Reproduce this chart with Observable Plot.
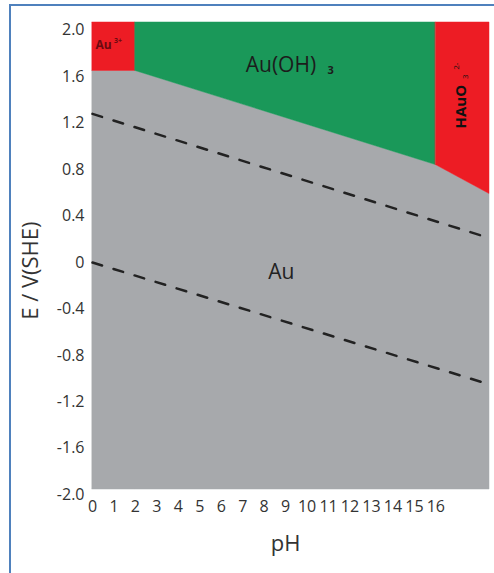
<!DOCTYPE html>
<html>
<head>
<meta charset="utf-8">
<script src="https://cdn.jsdelivr.net/npm/d3@7"></script>
<script src="https://cdn.jsdelivr.net/npm/@observablehq/plot@0.6"></script>
<style>
  html, body { margin: 0; padding: 0; background: #fff; }
  #wrap { position: relative; width: 494px; height: 573px; overflow: hidden; }
  #frameL { position: absolute; left: 9px; top: 4px; width: 2px; height: 569px; background: #4f81bd; }
  #frameT { position: absolute; left: 9px; top: 4px; width: 485px; height: 2px; background: #4f81bd; }
  #chart { position: absolute; left: 0; top: 0; }
</style>
</head>
<body>
<div id="wrap"><div id="chart"></div><div id="frameL"></div><div id="frameT"></div></div>
<script>
// Scale extent (E in V vs SHE, pH)
const pHDomain = [0, 18.5];
const EDomain = [-1.955, 2.067];
const pHTicks = [0,1,2,3,4,5,6,7,8,9,10,11,12,13,14,15,16];
const ETicks = [2.0, 1.6, 1.2, 0.8, 0.4, 0, -0.4, -0.8, -1.2, -1.6, -2.0];

// Region boundaries
const au3Boundary = [{pH: 0, E: 1.65}, {pH: 2, E: 1.65}];
const auOH3Boundary = [{pH: 2, E: 1.65}, {pH: 16, E: 0.84}];
const hAuO3Boundary = [{pH: 16, E: 0.84}, {pH: 18.5, E: 0.59}];
const auBoundary = [{pH: 0, E: 1.65}, {pH: 2, E: 1.65}, {pH: 16, E: 0.84}, {pH: 18.5, E: 0.59}];

// Water stability lines (dashed)
const o2Line = [{pH: 0, E: 1.28}, {pH: 18.5, E: 0.21}];
const h2Line = [{pH: 0, E: 0}, {pH: 18.5, E: -1.05}];

// Labels (pH, E positions)
const auOHLabel = [{pH: 7.14, E: 1.70, t: "Au(OH)"}];
const auOHSub = [{pH: 10.95, E: 1.655, t: "3"}];
const auLabel = [{pH: 8.8, E: -0.086, t: "Au"}];
const au3Label = [{pH: 0.14, E: 1.87, t: "Au"}];
const au3Sup = [{pH: 1.0, E: 1.91, t: "3+"}];
const hAuOLabel = [{pH: 17.16, E: 1.154, t: "HAuO"}];
const hAuOSub = [{pH: 17.36, E: 1.58, t: "3"}];
const hAuOSup = [{pH: 16.94, E: 1.66, t: "2-"}];
const xTitle = [{pH: 9.0, E: -2.42, t: "pH"}];
const yTitle = [{pH: -2.89, E: -0.07, t: "E / V(SHE)"}];

const cRed = "#ed1c24", cGreen = "#1a9859", cGray = "#a7a9ac";
const txt = "#333";
const font = "'Open Sans', 'Liberation Sans', sans-serif";

const plot = Plot.plot({
  width: 494,
  height: 573,
  marginTop: 22,
  marginBottom: 84,
  marginLeft: 92,
  marginRight: 5,
  style: {background: "transparent", fontFamily: font, overflow: "visible"},
  x: {domain: pHDomain, axis: null},
  y: {domain: EDomain, axis: null},
  marks: [
    Plot.areaY(auBoundary, {x: "pH", y1: EDomain[0], y2: "E", fill: cGray, stroke: cGray, strokeWidth: 0.5}),
    Plot.areaY(au3Boundary, {x: "pH", y1: "E", y2: EDomain[1], fill: cRed, stroke: cRed, strokeWidth: 0.5}),
    Plot.areaY(auOH3Boundary, {x: "pH", y1: "E", y2: EDomain[1], fill: cGreen, stroke: cGreen, strokeWidth: 0.5}),
    Plot.areaY(hAuO3Boundary, {x: "pH", y1: "E", y2: EDomain[1], fill: cRed, stroke: cRed, strokeWidth: 0.5}),
    Plot.line(o2Line, {x: "pH", y: "E", stroke: "#222", strokeWidth: 2.5, strokeDasharray: "10,12"}),
    Plot.line(h2Line, {x: "pH", y: "E", stroke: "#222", strokeWidth: 2.5, strokeDasharray: "10,12"}),
    Plot.text(auOHLabel, {x: "pH", y: "E", text: "t", textAnchor: "start", fontSize: 21, fill: "#1c1c1c", fontFamily: font}),
    Plot.text(auOHSub, {x: "pH", y: "E", text: "t", textAnchor: "start", fontSize: 11, fontWeight: "bold", fill: "#1c1c1c", fontFamily: font}),
    Plot.text(auLabel, {x: "pH", y: "E", text: "t", textAnchor: "middle", fontSize: 21, fill: "#222", fontFamily: font}),
    Plot.text(au3Label, {x: "pH", y: "E", text: "t", textAnchor: "start", fontSize: 12, fill: "#6b0a10", fontWeight: "bold", fontFamily: font}),
    Plot.text(au3Sup, {x: "pH", y: "E", text: "t", textAnchor: "start", fontSize: 7, fill: "#6b0a10", fontWeight: "bold", fontFamily: font}),
    Plot.text(hAuOLabel, {x: "pH", y: "E", text: "t", rotate: -90, textAnchor: "start", fontSize: 15, fontWeight: "bold", fill: "#111", fontFamily: font}),
    Plot.text(hAuOSub, {x: "pH", y: "E", text: "t", rotate: -90, textAnchor: "start", fontSize: 8, fill: "#111", fontFamily: font}),
    Plot.text(hAuOSup, {x: "pH", y: "E", text: "t", rotate: -90, textAnchor: "start", fontSize: 8, fill: "#111", fontFamily: font}),
    // axes
    Plot.axisX({ticks: pHTicks, tickSize: 0, tickPadding: 11, fontSize: 16, tickFormat: d => String(d), label: null, color: txt, fontFamily: font}),
    Plot.text(ETicks, {y: d => d, text: d => d === 0 ? "0" : d.toFixed(1), frameAnchor: "left", textAnchor: "end", dx: -8, fontSize: 16, fill: txt, fontFamily: font}),
    Plot.text(xTitle, {x: "pH", y: "E", text: "t", fontSize: 22, fill: txt, fontFamily: font}),
    Plot.text(yTitle, {x: "pH", y: "E", text: "t", rotate: -90, fontSize: 22, fill: txt, fontFamily: font})
  ]
});
document.getElementById("chart").appendChild(plot);
</script>
</body>
</html>
